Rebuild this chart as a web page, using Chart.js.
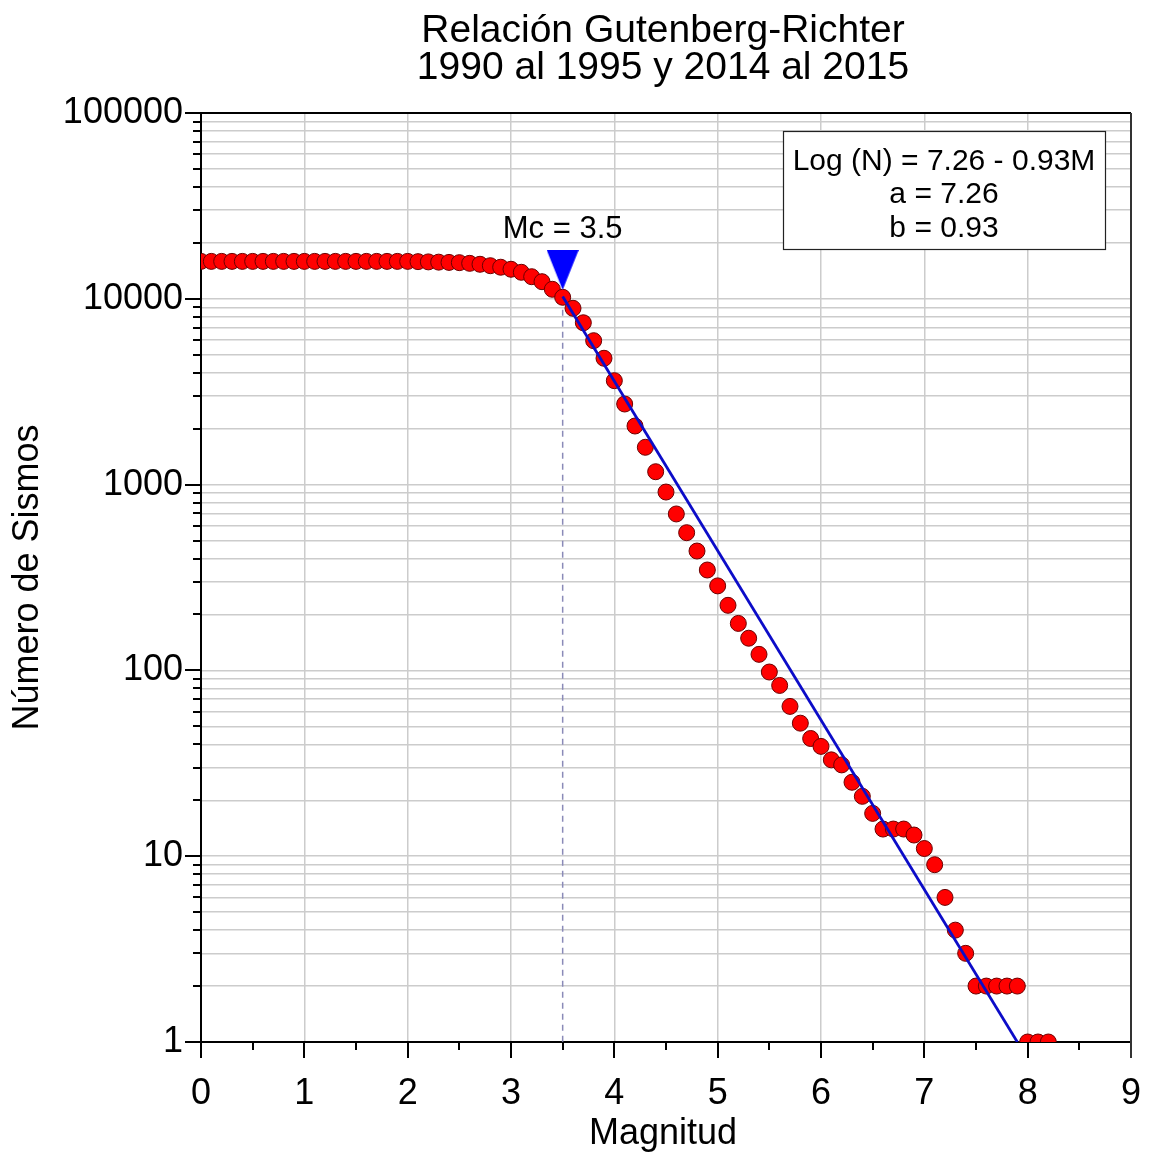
<!DOCTYPE html>
<html><head><meta charset="utf-8">
<script src="https://cdn.jsdelivr.net/npm/chart.js@4.4.1/dist/chart.umd.min.js"></script>
<style>html,body{margin:0;padding:0;background:#fff;}#c{display:block;}</style>
</head><body>
<canvas id="c" width="1149" height="1155"></canvas>
<script>
// ---- data ----
const magnitudes = [0.0,0.1,0.2,0.3,0.4,0.5,0.6,0.7,0.8,0.9,1.0,1.1,1.2,1.3,1.4,1.5,1.6,1.7,1.8,1.9,2.0,2.1,2.2,2.3,2.4,2.5,2.6,2.7,2.8,2.9,3.0,3.1,3.2,3.3,3.4,3.5,3.6,3.7,3.8,3.9,4.0,4.1,4.2,4.3,4.4,4.5,4.6,4.7,4.8,4.9,5.0,5.1,5.2,5.3,5.4,5.5,5.6,5.7,5.8,5.9,6.0,6.1,6.2,6.3,6.4,6.5,6.6,6.7,6.8,6.9,7.0,7.1,7.2,7.3,7.4,7.5,7.6,7.7,7.8,7.9,8.0,8.1,8.2];
const counts = [15900,15900,15900,15900,15900,15900,15900,15900,15900,15900,15900,15900,15900,15900,15900,15900,15900,15900,15900,15900,15900,15850,15800,15750,15700,15650,15520,15340,15070,14790,14420,13890,13150,12360,11250,10190,8890,7430,5950,4785,3625,2715,2067,1588,1173,912,695,551,439,347,285,224,179,149,122,98,83,64,52,43,39,33,31,25,21,17,14,14,14,13,11,9,6,4,3,2,2,2,2,2,1,1,1];
const fitLineM = [3.5, 7.9];
const fitLineN = [10300, 1];
const mcValue = 3.5;
const mcLineN = [10000, 1];
const mcMarkerN = 14300;
const xTickValues = [0,1,2,3,4,5,6,7,8,9];
const yDecades = [1,10,100,1000,10000];
const yMultipliers = [1,2,3,4,5,6,7,8,9];
const yTopValue = 100000;
const titleLines = ['Relación Gutenberg-Richter', '1990 al 1995 y 2014 al 2015'];
const xTitle = 'Magnitud';
const yTitle = 'Número de Sismos';
const mcLabel = 'Mc = 3.5';
const boxLines = ['Log (N) = 7.26 - 0.93M', 'a = 7.26', 'b = 0.93'];

// ---- helpers ----
const FAM = '"Liberation Sans", Arial, Helvetica, sans-serif';
const yGridValues = [];
yDecades.forEach(d => yMultipliers.forEach(m => yGridValues.push(d * m)));
yGridValues.push(yTopValue);
const isPow10 = v => Math.abs(Math.log10(v) - Math.round(Math.log10(v))) < 1e-9;

// downward triangle marker
const tri = document.createElement('canvas');
tri.width = 32; tri.height = 40;
(function(){ const t = tri.getContext('2d'); t.fillStyle = '#0000ff'; t.beginPath(); t.moveTo(0,0); t.lineTo(32,0); t.lineTo(16,40); t.closePath(); t.fill(); })();

const decor = {
  id: 'decor',
  afterDraw(chart) {
    const c = chart.ctx, ca = chart.chartArea;
    const xs = chart.scales.x, ys = chart.scales.y;
    c.save();
    // top & right frame
    c.lineWidth = 2;
    c.strokeStyle = '#000';
    c.beginPath(); c.moveTo(ca.left, ca.top); c.lineTo(ca.right, ca.top); c.stroke();
    c.strokeStyle = '#333';
    c.beginPath(); c.moveTo(ca.right, ca.top); c.lineTo(ca.right, ca.bottom); c.stroke();
    // y tick marks
    c.strokeStyle = '#000'; c.lineWidth = 2;
    yGridValues.forEach(v => {
      const py = Math.round(ys.getPixelForValue(v));
      const len = isPow10(v) ? 16 : 8;
      c.beginPath(); c.moveTo(ca.left - len, py); c.lineTo(ca.left, py); c.stroke();
    });
    // x tick marks (integers + halves)
    xTickValues.forEach((v, i) => {
      const px = Math.round(xs.getPixelForValue(v));
      c.strokeStyle = (v === xTickValues[xTickValues.length-1]) ? '#333' : '#000';
      c.beginPath(); c.moveTo(px, ca.bottom); c.lineTo(px, ca.bottom + 16); c.stroke();
      if (i < xTickValues.length - 1) {
        const ph = Math.round(xs.getPixelForValue(v + 0.5));
        c.strokeStyle = '#000';
        c.beginPath(); c.moveTo(ph, ca.bottom); c.lineTo(ph, ca.bottom + 8); c.stroke();
      }
    });
    // titles
    c.fillStyle = '#000';
    c.textAlign = 'center'; c.textBaseline = 'middle';
    c.font = '39px ' + FAM;
    const cx = (ca.left + ca.right) / 2 - 3;
    c.fillText(titleLines[0], cx, 31);
    c.fillText(titleLines[1], cx, 68);
    c.font = '36px ' + FAM;
    c.fillText(xTitle, cx, 1134);
    c.save();
    c.translate(28, (ca.top + ca.bottom) / 2);
    c.rotate(-Math.PI / 2);
    c.fillText(yTitle, 0, 0);
    c.restore();
    // Mc label
    c.font = '31px ' + FAM;
    c.fillText(mcLabel, xs.getPixelForValue(mcValue), 229);
    // box
    c.fillStyle = '#fff';
    c.fillRect(783, 131, 323, 119);
    c.strokeStyle = '#222'; c.lineWidth = 1.2;
    c.strokeRect(783.5, 131.5, 322, 118);
    c.fillStyle = '#000';
    c.font = '30px ' + FAM;
    c.fillText(boxLines[0], 944, 162);
    c.fillText(boxLines[1], 944, 195);
    c.fillText(boxLines[2], 944, 229);
    c.restore();
  }
};

const zeroPad = s => { s.paddingLeft = 0; s.paddingRight = 0; s.paddingTop = 0; s.paddingBottom = 0; };
const gridCol = '#cccccc';
new Chart(document.getElementById('c'), {
  type: 'scatter',
  data: {
    datasets: [
      { label: 'ajuste', type: 'line', data: fitLineM.map((m, i) => ({ x: m, y: fitLineN[i] })),
        borderColor: '#0c0cc8', borderWidth: 2.8, pointRadius: 0, fill: false, order: 0 },
      { label: 'Mc', data: [{ x: mcValue, y: mcMarkerN }], pointStyle: tri, pointRadius: 16, order: 0 },
      { label: 'sismos', data: magnitudes.map((m, i) => ({ x: m, y: counts[i] })),
        pointRadius: 8, backgroundColor: '#ff0000', borderColor: '#6a0000', borderWidth: 1, order: 1 },
      { label: 'mcline', type: 'line', data: mcLineN.map(n => ({ x: mcValue, y: n })),
        borderColor: '#8a8ab8', borderWidth: 1.5, borderDash: [6, 5], pointRadius: 0, fill: false, order: 2 }
    ]
  },
  options: {
    responsive: false, animation: false, devicePixelRatio: 1,
    layout: { padding: { top: 113, right: 18, bottom: 0, left: 0 } },
    plugins: { legend: { display: false }, tooltip: { enabled: false }, title: { display: false } },
    scales: {
      x: {
        type: 'linear', min: 0, max: 9,
        afterFit(s) { s.height = 113; zeroPad(s); },
        afterBuildTicks(s) { s.ticks = xTickValues.map(v => ({ value: v })); },
        ticks: { font: { size: 36, family: FAM }, color: '#000', padding: 30, maxRotation: 0, autoSkip: false },
        grid: { color: gridCol, lineWidth: 1.5, drawTicks: false },
        border: { color: '#000', width: 2 }
      },
      y: {
        type: 'logarithmic', min: 1, max: 100000,
        afterFit(s) { s.width = 201; zeroPad(s); },
        afterBuildTicks(s) { s.ticks = yGridValues.map(v => ({ value: v })); },
        ticks: { autoSkip: false, font: { size: 36, family: FAM }, color: '#000', padding: 18,
          callback: v => isPow10(v) ? String(v) : '' },
        grid: { color: gridCol, lineWidth: 1.5, drawTicks: false },
        border: { color: '#000', width: 2 }
      }
    }
  },
  plugins: [decor]
});
</script>
</body></html>
